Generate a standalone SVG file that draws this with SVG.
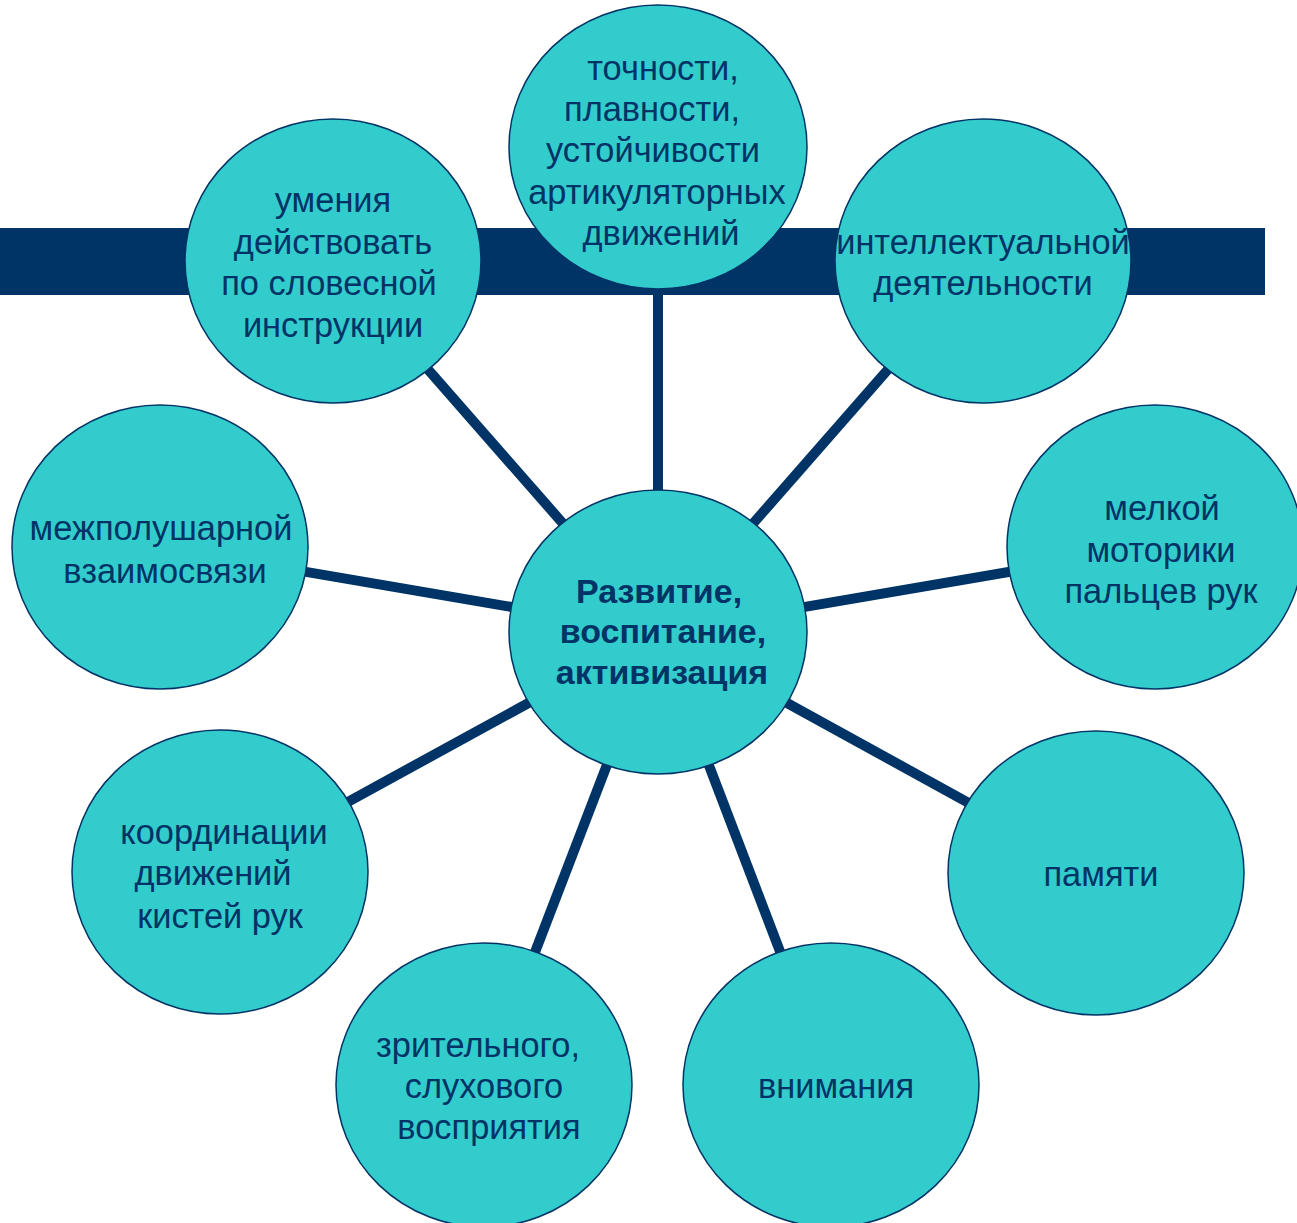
<svg xmlns="http://www.w3.org/2000/svg" width="1297" height="1223" viewBox="0 0 1297 1223">
<style>
.node ellipse{fill:#33CCCC;stroke:#003366;stroke-width:1.5}
.node text{font-family:"Liberation Sans",Arial,sans-serif;font-size:34.4px;fill:#003366;text-anchor:middle}
.node.main text{font-weight:bold;font-size:34px}
#connectors line{stroke:#003366;stroke-width:10}
</style>
<rect id="bar" x="0" y="228" width="1265" height="67" fill="#003366"/>
<g id="connectors">
<line x1="658" y1="632" x2="658" y2="147"/>
<line x1="658" y1="632" x2="333" y2="261"/>
<line x1="658" y1="632" x2="983" y2="261"/>
<line x1="658" y1="632" x2="160" y2="547"/>
<line x1="658" y1="632" x2="1155" y2="547"/>
<line x1="658" y1="632" x2="220" y2="872"/>
<line x1="658" y1="632" x2="1096" y2="873"/>
<line x1="658" y1="632" x2="484" y2="1085"/>
<line x1="658" y1="632" x2="831" y2="1085"/>
</g>
<g id="n-top" class="node">
<ellipse cx="658" cy="147" rx="149" ry="142"/>
<text x="663" y="80">точности,</text>
<text x="652" y="121">плавности,</text>
<text x="653" y="162">устойчивости</text>
<text x="657" y="204">артикуляторных</text>
<text x="661" y="245">движений</text>
</g>
<g id="n-umeniya" class="node">
<ellipse cx="333" cy="261" rx="148" ry="142"/>
<text x="333" y="212">умения</text>
<text x="333" y="254">действовать</text>
<text x="329" y="295">по словесной</text>
<text x="333" y="337">инструкции</text>
</g>
<g id="n-intel" class="node">
<ellipse cx="983" cy="261" rx="148" ry="142"/>
<text x="983" y="254">интеллектуальной</text>
<text x="983" y="295">деятельности</text>
</g>
<g id="n-mezhpol" class="node">
<ellipse cx="160" cy="547" rx="148" ry="142"/>
<text x="161" y="540">межполушарной</text>
<text x="165" y="583">взаимосвязи</text>
</g>
<g id="n-melkoy" class="node">
<ellipse cx="1155" cy="547" rx="148" ry="142"/>
<text x="1162" y="520">мелкой</text>
<text x="1161" y="562">моторики</text>
<text x="1161" y="603">пальцев рук</text>
</g>
<g id="n-main" class="node main">
<ellipse cx="658" cy="632" rx="149" ry="142"/>
<text x="659" y="603">Развитие,</text>
<text x="663" y="643">воспитание,</text>
<text x="662" y="684">активизация</text>
</g>
<g id="n-koord" class="node">
<ellipse cx="220" cy="872" rx="148" ry="142"/>
<text x="224" y="844">координации</text>
<text x="213" y="885">движений</text>
<text x="220" y="928">кистей рук</text>
</g>
<g id="n-pamyati" class="node">
<ellipse cx="1096" cy="873" rx="148" ry="142"/>
<text x="1101" y="886">памяти</text>
</g>
<g id="n-zrit" class="node">
<ellipse cx="484" cy="1085" rx="148" ry="142"/>
<text x="478" y="1057">зрительного,</text>
<text x="484" y="1098">слухового</text>
<text x="489" y="1139">восприятия</text>
</g>
<g id="n-vnim" class="node">
<ellipse cx="831" cy="1085" rx="148" ry="142"/>
<text x="836" y="1098">внимания</text>
</g>
</svg>
